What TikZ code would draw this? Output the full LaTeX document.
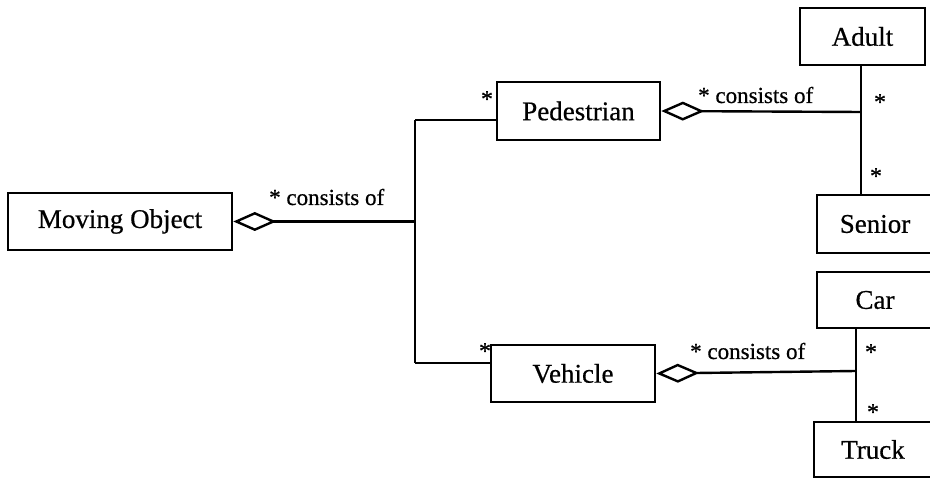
\documentclass[tikz,border=0pt]{standalone}
\usepackage{fontspec}
\setmainfont{Liberation Serif}
\newfontfamily\heavyserif[FakeBold=0.6]{Liberation Serif}
\usetikzlibrary{arrows.meta}
\begin{document}
\begin{tikzpicture}[x=1pt,y=-1pt,
  cls/.style={draw, line width=2.6pt, rectangle, inner sep=0pt,
    font=\heavyserif\fontsize{27}{27}\selectfont},
  link/.style={line width=2.4pt},
  agg/.style={link, {Diamond[open, length=43pt, width=19pt, line width=2.4pt]}-},
  lbl/.style={font=\heavyserif\fontsize{23}{23}\selectfont, inner sep=0pt, anchor=base west},
  mult/.style={font=\heavyserif\fontsize{24}{24}\selectfont, inner sep=0pt}
]
\useasboundingbox (0,0) rectangle (930,478);

% classes
\node[cls, minimum width=224pt, minimum height=57pt] (mo)  at (120,221.5) {Moving Object};
\node[cls, minimum width=163pt, minimum height=58pt] (ped) at (578.5,111)   {Pedestrian};
\node[cls, minimum width=164pt, minimum height=57pt] (veh) at (573,373.5) {Vehicle};
\node[cls, minimum width=125pt, minimum height=57pt] (adult)  at (862.5,36.5) {Adult};
\node[cls, minimum width=116pt, minimum height=58pt] (senior) at (875,224)   {Senior};
\node[cls, minimum width=116pt, minimum height=56pt] (car)    at (875,300)   {Car};
\node[cls, minimum width=118pt, minimum height=55pt] (truck)  at (873,449.5) {Truck};

% junction points
\coordinate (j0) at (415,221.5);
\coordinate (jp) at (415,120);
\coordinate (jv) at (415,363);
\coordinate (j1) at (861,112);
\coordinate (j2) at (856,371);

% Moving Object aggregation
\draw[agg] (mo.east) -- (j0);
\draw[link] (jp) -- (jv);
\draw[link] (jp) -- (jp -| ped.west);
\draw[link] (jv) -- (jv -| veh.west);

% Pedestrian aggregation
\draw[agg] (ped.east) -- (j1);
\draw[link] (adult.south -| j1) -- (senior.north -| j1);

% Vehicle aggregation
\draw[agg] (veh.east) -- (j2);
\draw[link] (car.south -| j2) -- (truck.north -| j2);

% association labels
\node[lbl] (l0) at (269,205) {* consists of};
\node[lbl] (l1) at (698,103) {* consists of};
\node[lbl] (l2) at (690,359) {* consists of};

% multiplicities
\node[mult] (m1) at (487,99) {*};
\node[mult] (m2) at (485,351) {*};
\node[mult] (m3) at (880,102) {*};
\node[mult] (m4) at (876,176) {*};
\node[mult] (m5) at (871,352) {*};
\node[mult] (m6) at (873,412) {*};
\end{tikzpicture}
\end{document}
